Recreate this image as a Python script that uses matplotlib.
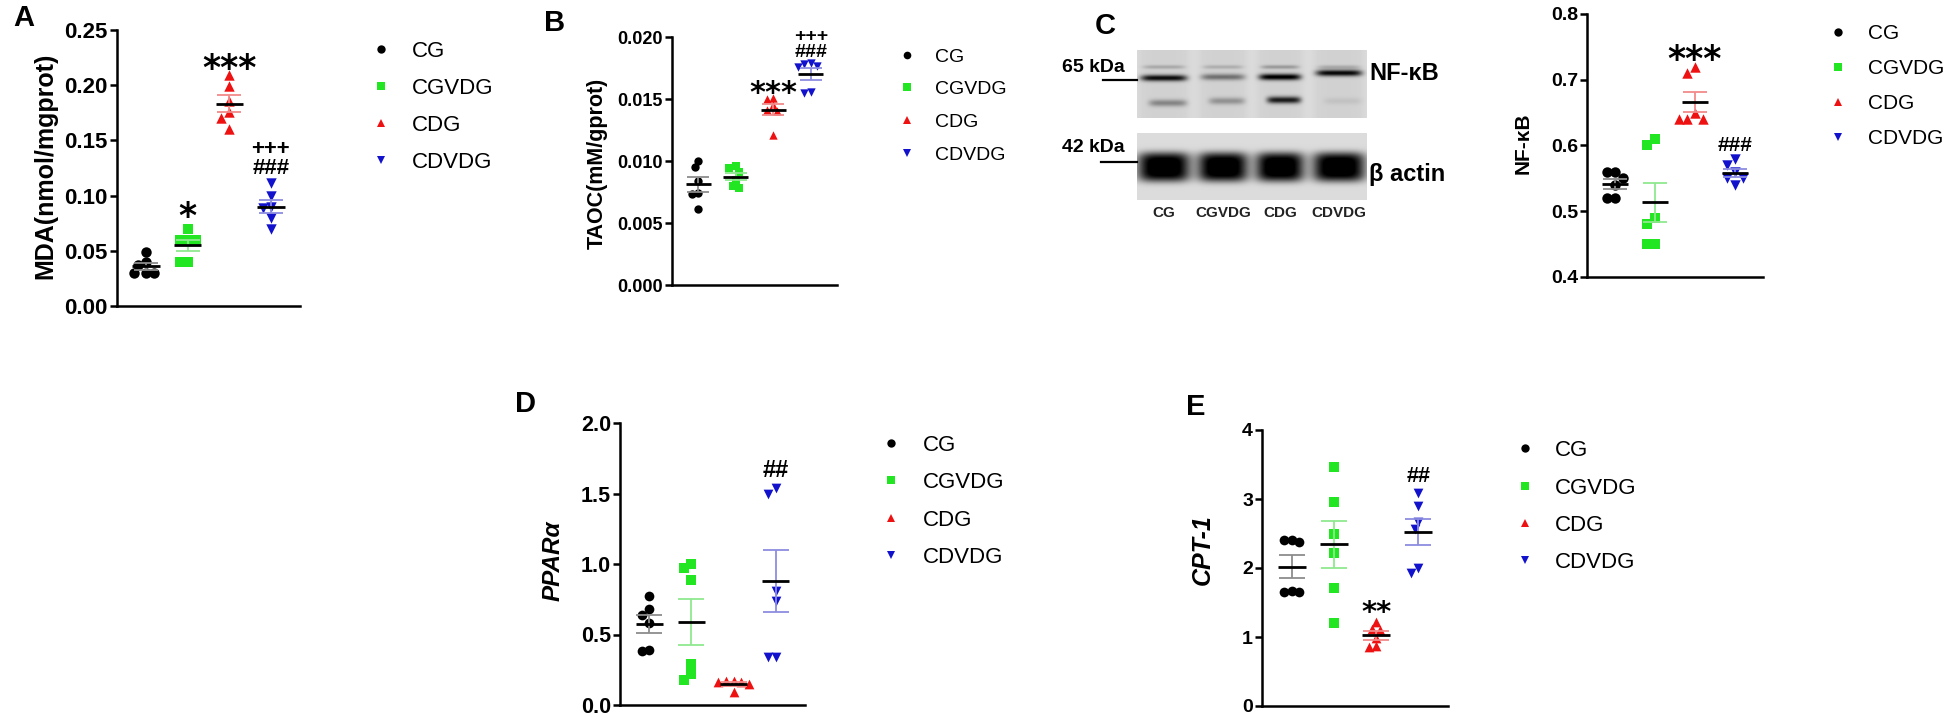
import numpy as np
import matplotlib.pyplot as plt
from matplotlib.lines import Line2D

plt.rcParams['font.family'] = ['Liberation Sans', 'DejaVu Sans']

W, H = 1949, 718

groups = ['CG', 'CGVDG', 'CDG', 'CDVDG']
colors = ['#000000', '#22e622', '#ee1111', '#1212cc']
err_colors = ['#8c8c8c', '#8fe88f', '#f28a8a', '#8c8ce0']
markers = ['o', 's', '^', 'v']

# A: MDA (nmol/mgprot)
mda_cg = [0.049, 0.040, 0.037, 0.030, 0.030, 0.030]
mda_cgvdg = [0.070, 0.060, 0.060, 0.060, 0.040, 0.040]
mda_cdg = [0.209, 0.199, 0.186, 0.176, 0.170, 0.160]
mda_cdvdg = [0.111, 0.100, 0.090, 0.089, 0.080, 0.070]

# B: TAOC (mM/gprot)
taoc_cg = [0.0100, 0.0095, 0.0084, 0.0074, 0.0073, 0.0061]
taoc_cgvdg = [0.0096, 0.0094, 0.0091, 0.0085, 0.0080, 0.0078]
taoc_cdg = [0.0151, 0.0150, 0.0145, 0.0141, 0.0140, 0.0121]
taoc_cdvdg = [0.0179, 0.0178, 0.0177, 0.0176, 0.0156, 0.0155]

# C: NF-kB relative expression
nfkb_cg = [0.56, 0.56, 0.55, 0.54, 0.52, 0.52]
nfkb_cgvdg = [0.61, 0.60, 0.49, 0.48, 0.45, 0.45]
nfkb_cdg = [0.72, 0.71, 0.65, 0.64, 0.64, 0.64]
nfkb_cdvdg = [0.58, 0.57, 0.56, 0.55, 0.55, 0.54]

# D: PPARa
ppar_cg = [0.77, 0.68, 0.64, 0.58, 0.39, 0.38]
ppar_cgvdg = [1.00, 0.97, 0.89, 0.29, 0.22, 0.18]
ppar_cdg = [0.17, 0.17, 0.16, 0.16, 0.15, 0.09]
ppar_cdvdg = [1.54, 1.50, 0.81, 0.74, 0.34, 0.34]

# E: CPT-1
cpt_cg = [2.40, 2.37, 2.40, 1.65, 1.66, 1.65]
cpt_cgvdg = [3.46, 2.96, 2.50, 2.22, 1.71, 1.20]
cpt_cdg = [1.22, 1.12, 1.10, 0.98, 0.85, 0.87]
cpt_cdvdg = [3.09, 2.90, 2.66, 2.56, 2.00, 1.93]

# western blot band darkness per lane
blot_lanes = ['CG', 'CGVDG', 'CDG', 'CDVDG']
nfkb_band = [0.78, 0.38, 0.85, 0.80]
nfkb_lower_band = [0.30, 0.25, 0.72, 0.06]
nfkb_top_band = [0.16, 0.14, 0.22, 0.14]
actin_band = [0.97, 0.97, 0.97, 0.97]

fig = plt.figure(figsize=(W / 100, H / 100), dpi=100)


def fx(px):
    return px / W


def fy(py):
    return 1 - py / H


def swarm(vals, xpx, ypx, diam):
    order = np.argsort(vals)[::-1]
    placed = []
    offs = np.zeros(len(vals))
    for i in order:
        yv = vals[i] * ypx
        k = 0
        found = None
        while found is None:
            cands = [0] if k == 0 else [-k, k]
            for c in cands:
                xo = c * diam * 0.5
                if all((xo - a) ** 2 + (yv - b) ** 2 >= diam ** 2 for a, b in placed):
                    found = xo
                    break
            k += 1
        placed.append((found, yv))
        offs[i] = found / xpx
    return offs


def add_panel(box, values, ylim, yticks, yticklabels, tick_fs, ms):
    l, t, r, b = box
    ax = fig.add_axes([fx(l), fy(b), (r - l) / W, (b - t) / H])
    ax.set_xlim(0.3, 4.7)
    ax.set_ylim(*ylim)
    for s in ['top', 'right']:
        ax.spines[s].set_visible(False)
    for s in ['left', 'bottom']:
        ax.spines[s].set_linewidth(1.8)
    ax.set_xticks([])
    ax.set_yticks(yticks)
    ax.set_yticklabels(yticklabels, fontsize=tick_fs, fontweight='bold')
    ax.tick_params(axis='y', length=5, width=1.8, pad=1.5)
    xpx = (r - l) / 4.4
    ypx = (b - t) / (ylim[1] - ylim[0])
    diam = ms * 100 / 72 * 0.78
    for i, v in enumerate(values):
        v = np.asarray(v, dtype=float)
        x0 = i + 1
        offs = swarm(v, xpx, ypx, diam)
        ax.scatter(x0 + offs, v, marker=markers[i], color=colors[i], s=ms ** 2,
                   linewidths=0, zorder=2, clip_on=False)
        m = v.mean()
        sem = v.std(ddof=1) / np.sqrt(len(v))
        ax.errorbar(x0, m, yerr=sem, fmt='none', ecolor=err_colors[i], elinewidth=1.3,
                    capsize=0.3 * xpx * 0.72, capthick=1.3, zorder=3)
        ax.hlines(m, x0 - 0.33, x0 + 0.33, color='k', lw=2, zorder=4)
    return ax


def mark(ax, x, y, s, fs):
    if '*' in s:
        ax.annotate(s, (x, y), xytext=(0, -0.56 * fs), textcoords='offset points',
                    ha='center', va='baseline', fontsize=fs, fontweight='bold',
                    family='DejaVu Sans', annotation_clip=False)
    else:
        ax.annotate(s, (x, y), xytext=(0, -0.35 * fs), textcoords='offset points',
                    ha='center', va='baseline', fontsize=fs, fontweight='bold',
                    annotation_clip=False)


def legend(mx, tx, rows, fs, ms):
    for g, c, mk, ry in zip(groups, colors, markers, rows):
        fig.add_artist(Line2D([fx(mx)], [fy(ry)], marker=mk, color=c, ms=ms, ls='none',
                              mew=0, transform=fig.transFigure))
        cap = 0.716 * fs * 100 / 72
        fig.text(fx(tx), fy(ry + cap / 2), g, fontsize=fs, ha='left', va='baseline')


def ylab(x, y, s, fs, style='normal'):
    fig.text(fx(x), fy(y), s, rotation=90, ha='center', va='center', fontsize=fs,
             fontweight='bold', style=style)


def letter(x, y, s):
    fig.text(fx(x), fy(y), s, ha='center', va='center', fontsize=21, fontweight='bold')


# Panel A
axA = add_panel((117, 30, 300, 306), [mda_cg, mda_cgvdg, mda_cdg, mda_cdvdg], (0, 0.25),
                [0, 0.05, 0.10, 0.15, 0.20, 0.25],
                ['0.00', '0.05', '0.10', '0.15', '0.20', '0.25'], 16, 7.5)
mark(axA, 2, 0.089, '*', 25)
mark(axA, 3, 0.223, '***', 25)
mark(axA, 4, 0.144, '+++', 16)
mark(axA, 4, 0.127, '###', 16)
ylab(45, 166, 'MDA(nmol/mgprot)', 18)
legend(381, 412, [49, 86, 123, 160], 16, 6)
letter(24, 18, 'A')

# Panel B
axB = add_panel((672, 37, 837, 285), [taoc_cg, taoc_cgvdg, taoc_cdg, taoc_cdvdg], (0, 0.020),
                [0, 0.005, 0.010, 0.015, 0.020],
                ['0.000', '0.005', '0.010', '0.015', '0.020'], 13, 6)
mark(axB, 3, 0.0161, '***', 22)
mark(axB, 4, 0.0189, '###', 14)
mark(axB, 4, 0.0202, '+++', 14)
ylab(597, 163, 'TAOC(mM/gprot)', 15.5)
legend(907, 935, [55, 87, 120, 153], 14, 5.5)
letter(555, 23, 'B')

# Panel C blot
bl, bt, br, bb = 1137, 50, 1367, 200
axBlot = fig.add_axes([fx(bl), fy(bb), (br - bl) / W, (bb - bt) / H])
axBlot.set_xlim(bl, br)
axBlot.set_ylim(bb, bt)
axBlot.axis('off')
lane_x = [1164, 1223, 1280, 1339]
lane_hw = [27, 26, 25, 27]
xs = np.arange(bl, br) + 0.5


def lane_prof(cx, hw, p=6):
    return np.exp(-np.abs((xs - cx) / hw) ** p)


yu = np.arange(50, 118) + 0.5
dark_u = np.full((len(yu), len(xs)), 0.13)
main_y = [78, 77, 77, 73]
low_y = [103, 101, 100, 101]
for i in range(4):
    lp = lane_prof(lane_x[i], lane_hw[i])
    dark_u += 0.05 * np.outer(np.ones(len(yu)), lp)
    dark_u += nfkb_band[i] * np.outer(np.exp(-((yu - main_y[i]) / 3.2) ** 2),
                                      lane_prof(lane_x[i], lane_hw[i] - 4))
    dark_u += nfkb_lower_band[i] * np.outer(np.exp(-((yu - low_y[i]) / 3.5) ** 2),
                                            lane_prof(lane_x[i] + 4, lane_hw[i] - 8))
    dark_u += nfkb_top_band[i] * np.outer(np.exp(-((yu - 67) / 2.0) ** 2),
                                          lane_prof(lane_x[i], lane_hw[i] - 6))
axBlot.imshow(1 - np.clip(dark_u, 0, 1), cmap='gray', vmin=0, vmax=1,
              extent=(bl, br, 118, 50), aspect='auto', interpolation='bilinear')

yl = np.arange(133, 200) + 0.5
dark_l = np.full((len(yl), len(xs)), 0.14)
for i in range(4):
    dark_l += actin_band[i] * np.outer(np.exp(-np.abs((yl - 167) / 14.5) ** 4),
                                       lane_prof(lane_x[i], lane_hw[i] - 1, p=4))
axBlot.imshow(1 - np.clip(dark_l, 0, 1), cmap='gray', vmin=0, vmax=1,
              extent=(bl, br, 200, 133), aspect='auto', interpolation='bilinear')

for lx, name in zip(lane_x, blot_lanes):
    fig.text(fx(lx), fy(213), name, ha='center', va='center', fontsize=11,
             fontweight='bold', color='#222222')
fig.text(fx(1125), fy(67), '65 kDa', ha='right', va='center', fontsize=14, fontweight='bold')
fig.text(fx(1125), fy(147), '42 kDa', ha='right', va='center', fontsize=14, fontweight='bold')
fig.add_artist(Line2D([fx(1103), fx(1137)], [fy(80), fy(80)], color='k', lw=1.6,
                      transform=fig.transFigure))
fig.add_artist(Line2D([fx(1101), fx(1137)], [fy(162), fy(162)], color='k', lw=1.6,
                      transform=fig.transFigure))
fig.text(fx(1369), fy(73), 'NF-κB', ha='left', va='center', fontsize=17, fontweight='bold')
fig.text(fx(1369), fy(175), 'β actin', ha='left', va='center', fontsize=17, fontweight='bold')
letter(1105, 26, 'C')

# Panel C scatter
axC = add_panel((1587, 14, 1763, 277), [nfkb_cg, nfkb_cgvdg, nfkb_cdg, nfkb_cdvdg], (0.4, 0.8),
                [0.4, 0.5, 0.6, 0.7, 0.8], ['0.4', '0.5', '0.6', '0.7', '0.8'], 14, 7.5)
mark(axC, 3, 0.745, '***', 25)
mark(axC, 4, 0.602, '###', 15)
ylab(1523, 143, 'NF-κB', 15)
legend(1838, 1868, [32, 67, 102, 137], 15, 6)

# Panel D
axD = add_panel((620, 423, 805, 705), [ppar_cg, ppar_cgvdg, ppar_cdg, ppar_cdvdg], (0, 2.0),
                [0, 0.5, 1.0, 1.5, 2.0], ['0.0', '0.5', '1.0', '1.5', '2.0'], 15.5, 7)
mark(axD, 4, 1.677, '##', 17)
ylab(553, 561, 'PPARα', 17.5, 'italic')
legend(891, 923, [443, 480, 518, 555], 16, 6)
letter(526, 404, 'D')

# Panel E
axE = add_panel((1262, 430, 1448, 706), [cpt_cg, cpt_cgvdg, cpt_cdg, cpt_cdvdg], (0, 4),
                [0, 1, 2, 3, 4], ['0', '1', '2', '3', '4'], 14, 7)
mark(axE, 3, 1.47, '**', 21)
mark(axE, 4, 3.35, '##', 15.5)
ylab(1203, 550, 'CPT-1', 18, 'italic')
legend(1525, 1555, [448, 486, 523, 560], 16, 6)
letter(1196, 407, 'E')

fig.savefig('out.png', dpi=100)
